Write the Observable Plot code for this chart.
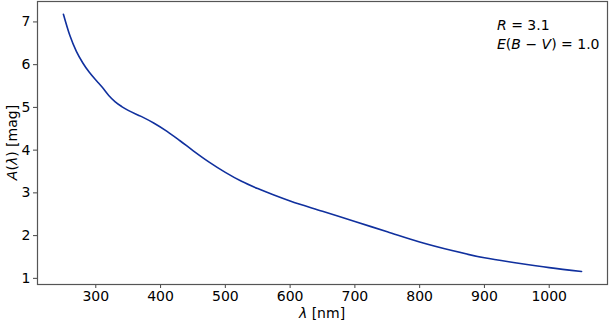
<!DOCTYPE html>
<html>
<head>
<meta charset="utf-8">
<script src="https://cdn.jsdelivr.net/npm/d3@7"></script>
<script src="https://cdn.jsdelivr.net/npm/@observablehq/plot@0.6"></script>
<style>
  html, body { margin: 0; padding: 0; background: #fff; }
  #chart svg { display: block; }
  #chart svg text { font-family: "DejaVu Sans", sans-serif; }
</style>
</head>
<body>
<div id="chart"></div>
<script>
// Wavelength (nm) and extinction A(lambda) (mag)
const wavelength = [250, 260, 270, 280, 290, 300, 303, 310, 320, 330, 340, 350, 370, 390, 410, 430, 450, 475, 500, 525, 550, 575, 600, 650, 700, 750, 800, 850, 900, 950, 1000, 1050];
const extinction = [7.18, 6.68, 6.31, 6.04, 5.82, 5.64, 5.59, 5.47, 5.28, 5.13, 5.02, 4.93, 4.79, 4.63, 4.44, 4.22, 3.99, 3.72, 3.48, 3.27, 3.10, 2.95, 2.81, 2.57, 2.33, 2.09, 1.85, 1.65, 1.48, 1.36, 1.25, 1.16];
const xTicks = [300, 400, 500, 600, 700, 800, 900, 1000];
const yTicks = [1, 2, 3, 4, 5, 6, 7];
const annotR = "3.1";
const annotE = "1.0";

const data = wavelength.map((w, i) => ({w, a: extinction[i]}));

const W = 609, H = 323;
const mL = 37, mR = 2, mT = 1, mB = 39;
const FS = 14;

const plot = Plot.plot({
  width: W,
  height: H,
  marginLeft: mL,
  marginRight: mR,
  marginTop: mT,
  marginBottom: mB,
  style: {fontFamily: "DejaVu Sans, sans-serif", fontSize: FS + "px", color: "#000", background: "#fff"},
  x: {domain: [210, 1090]},
  y: {domain: [0.856, 7.478]},
  marks: [
    Plot.line(data, {x: "w", y: "a", stroke: "#10309e", strokeWidth: 1.6, curve: "monotone-x"}),
    Plot.axisX({ticks: xTicks, tickSize: 4, tickPadding: 3, tickFormat: d => String(d), label: null, stroke: "#444", fontSize: FS}),
    Plot.axisY({ticks: yTicks, tickSize: 4, tickPadding: 3, tickFormat: d => String(d), label: null, stroke: "#444", fontSize: FS}),
    Plot.frame({stroke: "#555", strokeWidth: 1.2})
  ]
});

document.getElementById("chart").appendChild(plot);

// Labels with italic math variables
const svg = d3.select(plot);
const cx = mL + (W - mL - mR) / 2;
const cy = mT + (H - mT - mB) / 2;

const xl = svg.append("text")
  .attr("x", cx).attr("y", H - 5)
  .attr("text-anchor", "middle")
  .attr("font-size", FS).attr("fill", "#000");
xl.append("tspan").attr("font-style", "italic").text("λ");
xl.append("tspan").text(" [nm]");

const yl = svg.append("text")
  .attr("transform", `translate(17,${cy}) rotate(-90)`)
  .attr("text-anchor", "middle")
  .attr("font-size", FS).attr("fill", "#000");
yl.append("tspan").attr("font-style", "italic").text("A");
yl.append("tspan").text("(");
yl.append("tspan").attr("font-style", "italic").text("λ");
yl.append("tspan").text(") [mag]");

const ax = W - mR - 110;
const t1 = svg.append("text").attr("x", ax).attr("y", 30).attr("text-anchor", "start").attr("font-size", FS).attr("fill", "#000");
t1.append("tspan").attr("font-style", "italic").text("R");
t1.append("tspan").text(" = " + annotR);

const t2 = svg.append("text").attr("x", ax).attr("y", 49).attr("text-anchor", "start").attr("font-size", FS).attr("fill", "#000");
t2.append("tspan").attr("font-style", "italic").text("E");
t2.append("tspan").text("(");
t2.append("tspan").attr("font-style", "italic").text("B");
t2.append("tspan").text(" − ");
t2.append("tspan").attr("font-style", "italic").text("V");
t2.append("tspan").text(") = " + annotE);
</script>
</body>
</html>
